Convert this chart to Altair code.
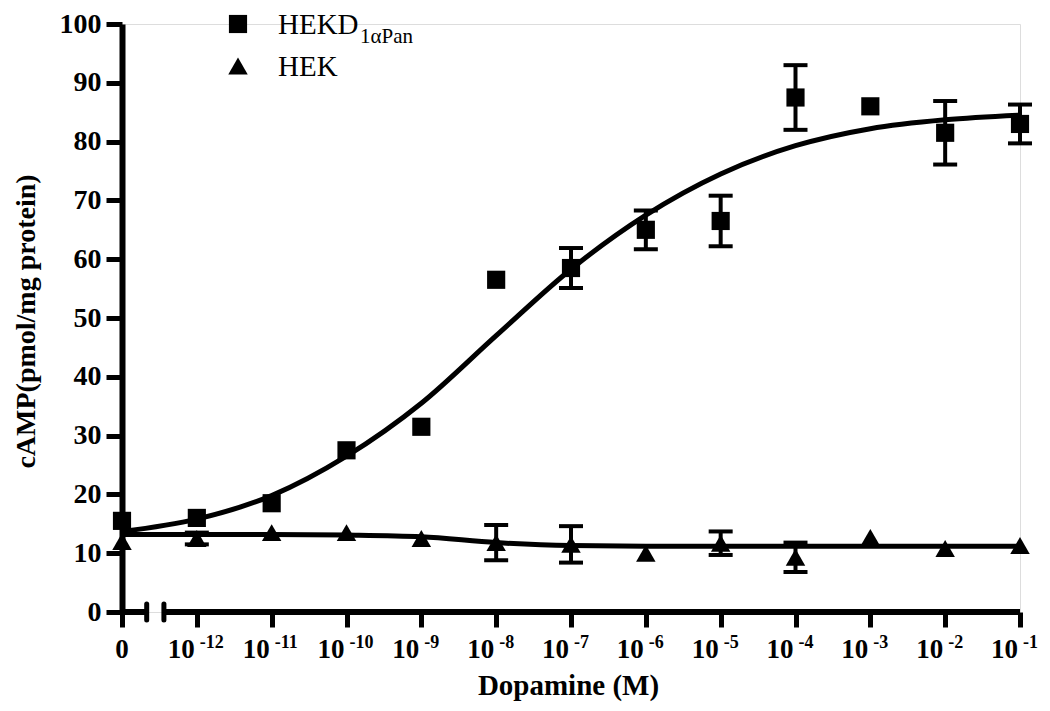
import altair as alt
import pandas as pd

FONT = "Liberation Serif"

# ---- data ----
# x position = log10[dopamine, M]; the zero-dose group sits at -13, left of the axis break
x_pos = [-13, -12, -11, -10, -9, -8, -7, -6, -5, -4, -3, -2, -1]
tick_base = ["0", "10", "10", "10", "10", "10", "10", "10", "10", "10", "10", "10", "10"]
tick_exp = ["", "-12", "-11", "-10", "-9", "-8", "-7", "-6", "-5", "-4", "-3", "-2", "-1"]

hekd_mean = [15.5, 16.0, 18.5, 27.5, 31.5, 56.5, 58.5, 65.0, 66.5, 87.5, 86.0, 81.5, 83.0]
hekd_err = [0, 0, 0, 0, 0, 0, 3.4, 3.3, 4.3, 5.5, 0, 5.4, 3.3]
hek_mean = [12.0, 12.5, 13.5, 13.5, 12.5, 11.8, 11.5, 10.0, 11.7, 9.3, 12.7, 10.8, 11.3]
hek_err = [0, 1.0, 0, 0, 0, 3.0, 3.1, 0, 2.0, 2.5, 0, 0, 0]

# fitted curves, read at each decade
hekd_fit = [13.7, 15.8, 19.8, 26.5, 35.5, 47.0, 58.3, 67.5, 74.5, 79.3, 82.2, 83.7, 84.5]
hek_fit = [13.2, 13.2, 13.2, 13.1, 12.8, 11.8, 11.3, 11.2, 11.2, 11.2, 11.2, 11.2, 11.2]

# broken x axis
axis_start = [-13, -12.44]
axis_end = [-12.67, -1]
break_caps = [-12.67, -12.44]

series = ["HEKD", "HEK"]

# ---- layout ----
PLOT_W = 898
PLOT_H = 588

rows = []
for name, m, e, f in [("HEKD", hekd_mean, hekd_err, hekd_fit), ("HEK", hek_mean, hek_err, hek_fit)]:
    for i, x in enumerate(x_pos):
        rows.append({"series": name, "pos": x, "mean": m[i], "err": e[i],
                     "lo": m[i] - e[i], "hi": m[i] + e[i], "fit": f[i]})
df = pd.DataFrame(rows)
err_df = df[df["err"] > 0]

ticks_df = pd.DataFrame({"pos": x_pos, "base": tick_base, "exp": tick_exp})
seg_df = pd.DataFrame({"start": axis_start, "end": axis_end})
cap_df = pd.DataFrame({"pos": break_caps})
one = pd.DataFrame({"k": [0]})

xs = alt.Scale(domain=[-13, -1], nice=False, zero=False)
ys = alt.Scale(domain=[0, 100], nice=False, zero=False)

x_enc = alt.X("pos:Q", scale=xs, axis=alt.Axis(
    values=x_pos, labels=False, domain=False, grid=False,
    tickSize=15, tickWidth=5, tickColor="black",
    title="Dopamine (M)", titleFont=FONT, titleFontSize=29, titleFontWeight="bold",
    titleColor="black", titleBaseline="middle", titleY=73, titleX=PLOT_W / 2 - 3))

y_axis = alt.Axis(values=list(range(0, 101, 10)), grid=False,
                  domainWidth=6, domainColor="black", tickWidth=5, tickSize=16,
                  tickColor="black", labelFont=FONT, labelFontSize=28, labelFontWeight="bold",
                  labelColor="black", labelPadding=5,
                  title="cAMP(pmol/mg protein)", titleFont=FONT, titleFontSize=28,
                  titleFontWeight="bold", titleColor="black", titleAngle=-90,
                  titleBaseline="middle", titleAlign="center", titleX=-96, titleY=PLOT_H / 2 + 3)

base = alt.Chart(df)

curves = base.mark_line(interpolate="monotone", strokeWidth=5, color="black").encode(
    x=x_enc,
    y=alt.Y("fit:Q", scale=ys, axis=y_axis),
    detail="series:N",
)

err_rules = alt.Chart(err_df).mark_rule(strokeWidth=4, color="black").encode(
    x=alt.X("pos:Q", scale=xs), y=alt.Y("lo:Q", scale=ys), y2="hi:Q")
err_lo = alt.Chart(err_df).mark_tick(orient="horizontal", size=24, thickness=4, color="black", opacity=1).encode(
    x=alt.X("pos:Q", scale=xs), y=alt.Y("lo:Q", scale=ys))
err_hi = alt.Chart(err_df).mark_tick(orient="horizontal", size=24, thickness=4, color="black", opacity=1).encode(
    x=alt.X("pos:Q", scale=xs), y=alt.Y("hi:Q", scale=ys))

squares = alt.Chart(df[df["series"] == "HEKD"]).mark_point(
    shape="square", filled=True, size=330, color="black", opacity=1).encode(
    x=alt.X("pos:Q", scale=xs), y=alt.Y("mean:Q", scale=ys))
triangles = alt.Chart(df[df["series"] == "HEK"]).mark_point(
    shape="triangle-up", filled=True, size=380, color="black", opacity=1).encode(
    x=alt.X("pos:Q", scale=xs), y=alt.Y("mean:Q", scale=ys))

# broken x axis line
axis_line = alt.Chart(seg_df).mark_rule(strokeWidth=6, color="black").encode(
    x=alt.X("start:Q", scale=xs), x2="end:Q", y=alt.datum(0, scale=ys))
axis_caps = alt.Chart(cap_df).mark_rule(strokeWidth=5, color="black", strokeCap="round").encode(
    x=alt.X("pos:Q", scale=xs), y=alt.value(PLOT_H - 8), y2=alt.value(PLOT_H + 8))

# x tick labels: "10" with raised exponent
lab_base = alt.Chart(ticks_df[ticks_df["exp"] != ""]).mark_text(
    font=FONT, fontSize=27, fontWeight="bold", color="black",
    align="right", baseline="alphabetic", dx=-2).encode(
    x=alt.X("pos:Q", scale=xs), y=alt.value(PLOT_H + 46), text="base:N")
lab_zero = alt.Chart(ticks_df[ticks_df["exp"] == ""]).mark_text(
    font=FONT, fontSize=27, fontWeight="bold", color="black",
    align="center", baseline="alphabetic").encode(
    x=alt.X("pos:Q", scale=xs), y=alt.value(PLOT_H + 46), text="base:N")
lab_exp = alt.Chart(ticks_df[ticks_df["exp"] != ""]).mark_text(
    font=FONT, fontSize=18, fontWeight="bold", color="black",
    align="left", baseline="alphabetic", dx=3).encode(
    x=alt.X("pos:Q", scale=xs), y=alt.value(PLOT_H + 36), text="exp:N")

# legend
leg_sq = alt.Chart(one).mark_point(shape="square", filled=True, size=330, color="black", opacity=1).encode(
    x=alt.value(116), y=alt.value(0))
leg_tri = alt.Chart(one).mark_point(shape="triangle-up", filled=True, size=380, color="black", opacity=1).encode(
    x=alt.value(116), y=alt.value(42))
leg_t1 = alt.Chart(one).mark_text(font=FONT, fontSize=29, color="black", align="left", baseline="alphabetic").encode(
    x=alt.value(156), y=alt.value(10), text=alt.value(series[0]))
leg_sub = alt.Chart(one).mark_text(font=FONT, fontSize=21, color="black", align="left", baseline="alphabetic").encode(
    x=alt.value(238), y=alt.value(19), text=alt.value("1αPan"))
leg_t2 = alt.Chart(one).mark_text(font=FONT, fontSize=29, color="black", align="left", baseline="alphabetic").encode(
    x=alt.value(156), y=alt.value(52), text=alt.value(series[1]))

chart = alt.layer(
    curves, axis_line, axis_caps, err_rules, err_lo, err_hi, squares, triangles,
    lab_base, lab_zero, lab_exp, leg_sq, leg_tri, leg_t1, leg_sub, leg_t2,
).properties(
    width=PLOT_W, height=PLOT_H,
    autosize=alt.AutoSizeParams(type="none"),
    padding={"left": 114, "top": 16, "right": 22, "bottom": 91},
).configure_view(stroke=None).configure(background="white")

chart.save("out.html", embed_options={"renderer": "svg", "actions": False})
